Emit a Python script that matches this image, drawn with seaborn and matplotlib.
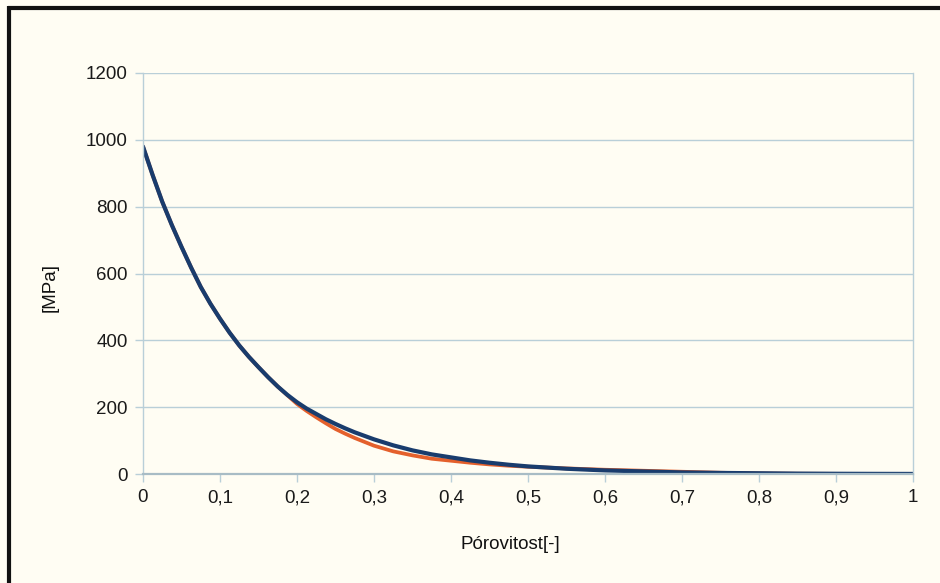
import matplotlib
matplotlib.use('Agg')
import matplotlib.pyplot as plt
import matplotlib.ticker as mticker
from matplotlib.lines import Line2D
import pandas as pd
import seaborn as sns

# porosity values and the two modulus curves [MPa]
porosity = [0, 0.0125, 0.025, 0.0375, 0.05, 0.0625, 0.075, 0.0875, 0.1,
            0.1125, 0.125, 0.1375, 0.15, 0.1625, 0.175, 0.1875, 0.2, 0.2125,
            0.225, 0.2375, 0.25, 0.2625, 0.275, 0.3, 0.325, 0.35, 0.375,
            0.4, 0.425, 0.45, 0.475, 0.5, 0.55, 0.6, 0.65, 0.7, 0.75, 0.8,
            0.85, 0.9, 0.95, 1.0]
blue_vals = [980, 895, 815, 745, 680, 618, 560, 510, 465,
             423, 385, 351, 320, 290, 262, 237, 215, 196,
             180, 164, 150, 137, 125, 104, 86, 71, 59,
             50, 41, 34, 28, 23, 16, 11, 8, 5, 3.5, 2.5,
             1.5, 1, 0.7, 0.5]
orange_vals = [980, 895, 815, 745, 680, 618, 560, 510, 465,
               423, 385, 351, 320, 290, 262, 236, 210, 189,
               170, 152, 135, 121, 108, 85, 68, 56, 46,
               40, 34, 29, 25, 22, 17, 13, 10, 7, 4, 2,
               1, 0.7, 0.5, 0.3]
y_ticks = [0, 200, 400, 600, 800, 1000, 1200]
x_ticks = [0, 0.1, 0.2, 0.3, 0.4, 0.5, 0.6, 0.7, 0.8, 0.9, 1.0]

df = pd.DataFrame({
    'p': porosity * 2,
    'E': orange_vals + blue_vals,
    'serie': ['b'] * len(porosity) + ['a'] * len(porosity),
})

sns.set_theme(style='white')
plt.rcParams['font.family'] = ['Liberation Sans', 'DejaVu Sans']

bg = '#fffdf3'
grid_c = '#b9cfd8'

fig = plt.figure(figsize=(9.4, 5.83), dpi=100, facecolor=bg)
ax = fig.add_axes([0.1521, 0.1868, 0.8192, 0.6880])
ax.set_facecolor(bg)

sns.lineplot(data=df[df['serie'] == 'b'], x='p', y='E', color='#e4602c',
             linewidth=2.7, ax=ax, legend=False,
             solid_joinstyle='round', solid_capstyle='round')
sns.lineplot(data=df[df['serie'] == 'a'], x='p', y='E', color='#193c6d',
             linewidth=3.0, ax=ax, legend=False,
             solid_joinstyle='round', solid_capstyle='round')

ax.set_xlim(0, 1)
ax.set_ylim(0, 1200)
ax.set_xticks(x_ticks)
ax.set_yticks(y_ticks)
ax.xaxis.set_major_formatter(mticker.FuncFormatter(
    lambda v, pos: ('%g' % v).replace('.', ',')))
ax.yaxis.grid(True, color=grid_c, linewidth=1)
ax.xaxis.grid(False)
ax.set_axisbelow(True)

for side in ['left', 'right']:
    ax.spines[side].set_color(grid_c)
    ax.spines[side].set_linewidth(1)
ax.spines['top'].set_visible(False)
ax.spines['bottom'].set_color('#a8bcc5')
ax.spines['bottom'].set_linewidth(1.6)

ax.tick_params(axis='both', direction='out', length=6, width=1,
               color=grid_c, labelsize=13.5, labelcolor='#1a1a1a',
               left=True, bottom=True, pad=5)

ax.set_xlabel('Pórovitost[-]', fontsize=13.5, color='#111111')
ax.set_ylabel('[MPa]', fontsize=13.5, color='#111111')
ax.xaxis.set_label_coords(0.477, -0.155)
ax.yaxis.set_label_coords(-0.11, 0.466)

# black frame on the top and left edge of the picture
fig.add_artist(Line2D([0.009, 1.0], [0.987, 0.987], transform=fig.transFigure,
                      color='#111111', linewidth=3, solid_capstyle='butt'))
fig.add_artist(Line2D([0.0095, 0.0095], [0.0, 0.99], transform=fig.transFigure,
                      color='#111111', linewidth=3, solid_capstyle='butt'))

fig.savefig('out.png', dpi=100, facecolor=bg)
